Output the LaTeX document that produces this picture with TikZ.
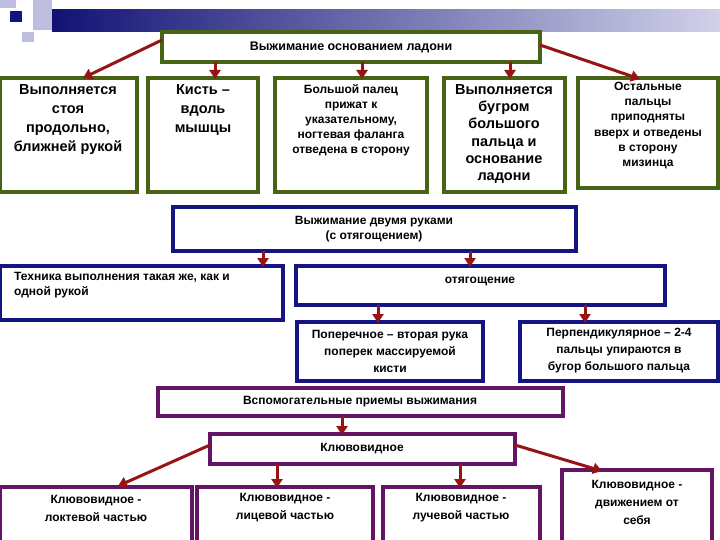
\documentclass[tikz,border=0pt]{standalone}
\usepackage{fontspec}
\setmainfont{Liberation Sans}
\usetikzlibrary{arrows.meta}
\definecolor{gr}{RGB}{70,100,20}
\definecolor{bl}{RGB}{20,20,130}
\definecolor{pu}{RGB}{100,20,100}
\definecolor{ar}{RGB}{150,20,20}
\definecolor{lav}{RGB}{190,190,225}
\begin{document}
\begin{tikzpicture}[x=1pt,y=-1pt,
  bx/.style={draw=#1,line width=3.5pt,fill=white},
  arr/.style={ar,line width=3pt,-{Triangle[length=9pt,width=11pt]}},
  tx/.style={align=center,font=\fontsize{12}{15}\selectfont\bfseries,inner sep=0pt}]
\useasboundingbox (0,0) rectangle (720,540);
\fill[white] (0,0) rectangle (720,540);
% header decoration
\fill[lav] (0,0) rectangle (16,8);
\fill[lav] (33,0) rectangle (52,30);
\fill[lav] (22,32) rectangle (34,42);
\shade[left color=bl!90!black,right color=lav!70] (52,10) rectangle (720,32);
\fill[bl] (10,11) rectangle (22,22);
% top
\draw[bx=gr] (162,32) rectangle (540,62);
\node[tx,font=\fontsize{12.5}{15}\selectfont\bfseries] (top) at (351,47) {Выжимание основанием ладони};
\coordinate (tl) at (162,40); \coordinate (tr) at (540,45);
\draw[bx=gr] (0,78) rectangle (137,192);
\draw[bx=gr] (148,78) rectangle (258,192);
\draw[bx=gr] (275,78) rectangle (427,192);
\draw[bx=gr] (444,78) rectangle (565,192);
\draw[bx=gr] (578,78) rectangle (718,188);
\node[tx,font=\fontsize{14.5}{19}\selectfont\bfseries,anchor=north] (g1) at (68,84) {Выполняется\\стоя\\продольно,\\ближней рукой};
\node[tx,font=\fontsize{14.5}{19}\selectfont\bfseries,anchor=north] (g2) at (203,84) {Кисть –\\вдоль\\мышцы};
\node[tx,font=\fontsize{12}{15.2}\selectfont\bfseries,anchor=north] (g3) at (351,84) {Большой палец\\прижат к\\указательному,\\ногтевая фаланга\\отведена в сторону};
\node[tx,font=\fontsize{14.5}{17.3}\selectfont\bfseries,anchor=north] (g4) at (504,84) {Выполняется\\бугром\\большого\\пальца и\\основание\\ладони};
\node[tx,font=\fontsize{12}{15.2}\selectfont\bfseries,anchor=north] (g5) at (648,82) {Остальные\\пальцы\\приподняты\\вверх и отведены\\в сторону\\мизинца};
\coordinate (a1) at (83,78); \coordinate (a5) at (640,79);
\draw[arr] (tl) -- (a1);
\draw[arr] (215,62) -- (215,79);
\draw[arr] (362,62) -- (362,79);
\draw[arr] (510,62) -- (510,79);
\draw[arr] (tr) -- (a5);
% blue
\draw[bx=bl] (173,207) rectangle (576,251);
\node[tx] (two) at (374,229) {Выжимание двумя руками\\(с отягощением)};
\draw[bx=bl] (0,266) rectangle (283,320);
\node[tx,align=left,anchor=north west] (tech) at (14,272) {Техника выполнения такая же, как и\\одной рукой};
\draw[bx=bl] (296,266) rectangle (665,305);
\node[tx] (ot) at (480,281) {отягощение};
\draw[bx=bl] (297,322) rectangle (483,381);
\node[tx,font=\fontsize{12}{17}\selectfont\bfseries] (pop) at (390,351) {Поперечное – вторая рука\\поперек массируемой\\кисти};
\draw[bx=bl] (520,322) rectangle (718,381);
\node[tx,font=\fontsize{12}{17}\selectfont\bfseries] (per) at (619,351) {Перпендикулярное – 2-4\\пальцы упираются в\\бугор большого пальца};
\draw[arr] (263,251) -- (263,267);
\draw[arr] (470,251) -- (470,267);
\draw[arr] (378,305) -- (378,323);
\draw[arr] (585,305) -- (585,323);
% purple
\draw[bx=pu] (158,388) rectangle (563,416);
\node[tx] (vsp) at (360,402) {Вспомогательные приемы выжимания};
\draw[bx=pu] (210,434) rectangle (515,464);
\node[tx] (kl) at (362,449) {Клювовидное};
\draw[arr] (342,416) -- (342,435);
\draw[bx=pu] (0,487) rectangle (192,545);
\draw[bx=pu] (197,487) rectangle (373,545);
\draw[bx=pu] (383,487) rectangle (540,545);
\draw[bx=pu] (562,470) rectangle (712,545);
\node[tx,font=\fontsize{12}{18}\selectfont\bfseries] (k1) at (96,508) {Клювовидное -\\локтевой частью};
\node[tx,font=\fontsize{12}{18}\selectfont\bfseries] (k2) at (285,508) {Клювовидное -\\лицевой частью};
\node[tx,font=\fontsize{12}{18}\selectfont\bfseries] (k3) at (461,508) {Клювовидное -\\лучевой частью};
\node[tx,font=\fontsize{12}{18}\selectfont\bfseries] (k4) at (637,502) {Клювовидное -\\движением от\\себя};
\coordinate (kl1) at (210,445); \coordinate (kr1) at (515,445);
\coordinate (b1) at (118,486); \coordinate (b4) at (602,471);
\draw[arr] (kl1) -- (b1);
\draw[arr] (277,464) -- (277,488);
\draw[arr] (460,464) -- (460,488);
\draw[arr] (kr1) -- (b4);
\end{tikzpicture}
\end{document}
